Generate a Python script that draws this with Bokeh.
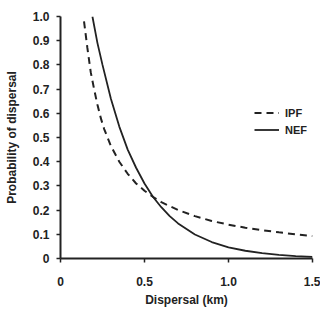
from bokeh.plotting import figure
from bokeh.models import FixedTicker, Legend, LegendItem, Range1d
from bokeh.embed import file_html
from bokeh.resources import INLINE

# Data
ipf_x = [0.14, 0.16, 0.18, 0.20, 0.22, 0.24, 0.26, 0.28, 0.30, 0.35, 0.40, 0.45, 0.50, 0.55, 0.60, 0.70, 0.80, 0.90, 1.00, 1.10, 1.20, 1.30, 1.40, 1.50]
ipf_y = [0.98, 0.87, 0.77, 0.70, 0.635, 0.58, 0.535, 0.50, 0.465, 0.40, 0.35, 0.31, 0.28, 0.255, 0.233, 0.20, 0.175, 0.155, 0.14, 0.127, 0.117, 0.108, 0.10, 0.093]

nef_x = [0.19, 0.22, 0.25, 0.30, 0.35, 0.40, 0.45, 0.50, 0.55, 0.60, 0.65, 0.70, 0.80, 0.90, 1.00, 1.10, 1.20, 1.30, 1.40, 1.50]
nef_y = [1.00, 0.89, 0.80, 0.66, 0.545, 0.45, 0.375, 0.31, 0.255, 0.212, 0.175, 0.145, 0.099, 0.068, 0.046, 0.032, 0.022, 0.015, 0.010, 0.007]

x_ticks = [0, 0.5, 1.0, 1.5]
x_tick_labels = ["0", "0.5", "1.0", "1.5"]
y_ticks = [0, 0.1, 0.2, 0.3, 0.4, 0.5, 0.6, 0.7, 0.8, 0.9, 1.0]
y_tick_labels = ["0", "0.1", "0.2", "0.3", "0.4", "0.5", "0.6", "0.7", "0.8", "0.9", "1.0"]

series_names = ["IPF", "NEF"]

INK = "#222222"
FONT = "Liberation Sans"

p = figure(width=320, height=309, output_backend="svg", toolbar_location=None,
           x_range=Range1d(0, 1.5), y_range=Range1d(0, 1.0),
           min_border_left=60, min_border_right=8, min_border_top=16, min_border_bottom=47)
p.outline_line_color = None
p.xgrid.visible = False
p.ygrid.visible = False

r_ipf = p.line(ipf_x, ipf_y, line_color=INK, line_width=2, line_dash="7 5")
r_nef = p.line(nef_x, nef_y, line_color=INK, line_width=1.8)

for ax in (p.xaxis[0], p.yaxis[0]):
    ax.axis_line_color = INK
    ax.axis_line_width = 2
    ax.major_tick_line_color = INK
    ax.major_tick_line_width = 1.5
    ax.major_tick_out = 4
    ax.major_tick_in = 0
    ax.minor_tick_line_color = None
    ax.major_label_text_font = FONT
    ax.major_label_text_font_style = "bold"
    ax.major_label_text_font_size = "12px"
    ax.major_label_text_color = INK
    ax.axis_label_text_font = FONT
    ax.axis_label_text_font_style = "bold"
    ax.axis_label_text_font_size = "12px"
    ax.axis_label_text_color = INK

p.xaxis.ticker = FixedTicker(ticks=x_ticks)
p.xaxis.major_label_overrides = {t: l for t, l in zip(x_ticks, x_tick_labels)}
p.yaxis.ticker = FixedTicker(ticks=y_ticks)
p.yaxis.major_label_overrides = {t: l for t, l in zip(y_ticks, y_tick_labels)}

p.xaxis.axis_label = "Dispersal (km)"
p.yaxis.axis_label = "Probability of dispersal"
p.xaxis.major_label_standoff = 14
p.xaxis.axis_label_standoff = 4
p.yaxis.major_label_standoff = 7
p.yaxis.axis_label_standoff = 11

legend = Legend(items=[LegendItem(label=series_names[0], renderers=[r_ipf]),
                       LegendItem(label=series_names[1], renderers=[r_nef])],
                location=(194, 120), orientation="vertical")
legend.border_line_color = None
legend.background_fill_alpha = 0
legend.padding = 0
legend.margin = 0
legend.spacing = 0
legend.glyph_width = 25
legend.glyph_height = 17
legend.label_height = 17
legend.label_standoff = 6
legend.label_text_font = FONT
legend.label_text_font_style = "bold"
legend.label_text_font_size = "11px"
legend.label_text_color = INK
p.add_layout(legend, "center")

open("out.html", "w").write(file_html(p, INLINE))
